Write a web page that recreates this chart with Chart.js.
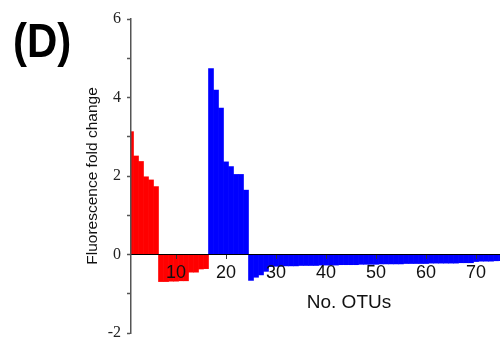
<!DOCTYPE html>
<html><head><meta charset="utf-8">
<script src="https://cdn.jsdelivr.net/npm/chart.js@4.4.1/dist/chart.umd.min.js"></script>
<style>html,body{margin:0;padding:0;background:#fff;} #wrap{width:500px;height:340px;position:relative;}</style>
</head><body><div id="wrap"><canvas id="c" width="500" height="340"></canvas></div>
<script>
const panelLabel = '(D)';
const xTitle = 'No. OTUs';
const yTitle = 'Fluorescence fold change';

// OTU numbers start at these values; bars are consecutive OTUs
const redFirstOTU = 1;
const redValues = [3.13, 2.51, 2.37, 1.98, 1.90, 1.73,
  -0.69, -0.69, -0.68, -0.68, -0.67, -0.67, -0.45, -0.45, -0.37, -0.36];
const blueFirstOTU = 17;
const blueValues = [4.74, 4.19, 3.73, 2.36, 2.24, 2.04, 2.04, 1.64,
  -0.66, -0.58, -0.52, -0.43, -0.31, -0.30, -0.30, -0.29, -0.29, -0.29,
  -0.28, -0.28, -0.28, -0.28, -0.27, -0.27, -0.27, -0.27, -0.26, -0.26,
  -0.26, -0.26, -0.25, -0.25, -0.25, -0.25, -0.24, -0.24, -0.24, -0.24,
  -0.24, -0.23, -0.23, -0.23, -0.23, -0.23, -0.22, -0.22, -0.22, -0.22,
  -0.22, -0.22, -0.21, -0.21, -0.21, -0.18, -0.17, -0.17, -0.17, -0.16, -0.16];

const xTickValues = [10, 20, 30, 40, 50, 60, 70];
const yTickValues = [-2, -1, 0, 1, 2, 3, 4, 5, 6];
const yLabelValues = [-2, 0, 2, 4, 6];

const toPoints = (first, vals) => vals.map((v, i) => ({x: first + i, y: v}));

const textPlugin = {
  id: 'panelText',
  afterDraw(chart) {
    const c = chart.ctx;
    c.save();
    c.fillStyle = '#000';
    c.font = 'bold 42px "Liberation Sans", Arial, sans-serif';
    c.textBaseline = 'alphabetic';
    c.translate(13, 57);
    c.scale(1, 1.15);
    c.fillText(panelLabel, 0, 0);
    c.restore();
    c.save();
    c.fillStyle = '#111';
    c.font = '19px "Liberation Sans", Arial, sans-serif';
    c.textAlign = 'center';
    c.textBaseline = 'middle';
    c.fillText(xTitle, 349, 303);
    c.restore();
  }
};

new Chart(document.getElementById('c'), {
  type: 'bar',
  data: {
    datasets: [
      {label: 'red', data: toPoints(redFirstOTU, redValues), backgroundColor: '#ff0000',
       borderWidth: 0, barPercentage: 1, categoryPercentage: 1, grouped: false, clip: 0},
      {label: 'blue', data: toPoints(blueFirstOTU, blueValues), backgroundColor: '#0000ff',
       borderWidth: 0, barPercentage: 1, categoryPercentage: 1, grouped: false, clip: 0}
    ]
  },
  options: {
    responsive: false, animation: false, devicePixelRatio: 1,
    layout: {padding: {left: 0, right: 0, top: 19, bottom: 7}},
    plugins: {legend: {display: false}, tooltip: {enabled: false}},
    scales: {
      x: {
        type: 'linear', position: {y: 0}, min: 1, max: 74.8, z: 1, offset: false,
        afterBuildTicks: s => { s.ticks = xTickValues.map(v => ({value: v})); },
        grid: {display: true, offset: false, drawOnChartArea: false, drawTicks: true, tickLength: 4, tickColor: '#333', z: 1},
        border: {display: true, color: '#000', width: 1, z: 1},
        ticks: {font: {family: '"Liberation Sans", Arial, sans-serif', size: 18}, color: '#111',
                padding: 4, maxRotation: 0, autoSkip: false, z: 1}
      },
      y: {
        min: -2, max: 6, position: 'left', z: 1,
        afterBuildTicks: s => { s.ticks = yTickValues.map(v => ({value: v})); },
        afterFit: s => { s.width = 131; s.paddingTop = 0; s.paddingBottom = 0; },
        grid: {drawOnChartArea: false, tickLength: 4, tickColor: '#555', tickWidth: 1.5},
        border: {color: '#555', width: 1.5, z: 1},
        ticks: {callback: v => yLabelValues.includes(v) ? String(v) : '',
                font: {family: '"Liberation Serif", "Times New Roman", serif', size: 16},
                color: '#222', padding: 6, autoSkip: false},
        title: {display: true, text: yTitle, color: '#111',
                font: {family: '"Liberation Sans", Arial, sans-serif', size: 15.5},
                padding: {top: 83, bottom: 0}}
      }
    }
  },
  plugins: [textPlugin]
});
</script>
</body></html>
